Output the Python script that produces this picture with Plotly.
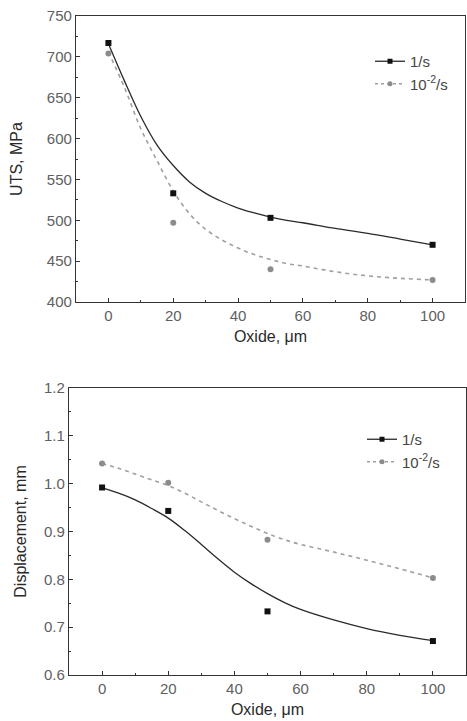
import plotly.graph_objects as go

# ---- data ----
oxide = [0, 20, 50, 100]
uts_fast = [717, 533, 503, 470]
uts_slow = [704, 497, 440, 427]
disp_fast = [0.992, 0.943, 0.733, 0.671]
disp_slow = [1.042, 1.002, 0.883, 0.803]

fit_x = [0, 5, 10, 15, 20, 25, 30, 35, 40, 45, 50, 55, 60, 70, 80, 90, 100]
uts_fast_fit = [716, 670, 627, 592, 567, 547, 533, 523, 515, 509, 504, 500, 497, 490, 484, 477, 470]
uts_slow_fit = [706, 662, 612, 573, 536, 508, 489, 476, 466, 458, 452, 447, 444, 437, 432, 429, 427]
disp_fast_fit = [0.991, 0.980, 0.966, 0.948, 0.928, 0.902, 0.873, 0.843, 0.815, 0.791, 0.770, 0.752, 0.737, 0.715, 0.697, 0.683, 0.672]
disp_slow_fit = [1.042, 1.032, 1.020, 1.008, 0.996, 0.980, 0.962, 0.944, 0.927, 0.911, 0.896, 0.883, 0.873, 0.857, 0.840, 0.822, 0.803]

x_ticks = [0, 20, 40, 60, 80, 100]
uts_ticks = [400, 450, 500, 550, 600, 650, 700, 750]
disp_ticks = [0.6, 0.7, 0.8, 0.9, 1.0, 1.1, 1.2]
disp_tick_text = ["0.6", "0.7", "0.8", "0.9", "1.0", "1.1", "1.2"]

label_fast = "1/s"
label_slow = "10<sup>-2</sup>/s"

# ---- styles ----
FONT = "Liberation Sans, Arial, sans-serif"
DARK = "#2a2a2a"
GREY_LINE = "#a0a0a0"
GREY_MK = "#8c8c8c"
TICK_COL = "#606060"

fig = go.Figure()

def add_panel(xa, ya, legend, fast, slow, fast_fit, slow_fit):
    fig.add_trace(go.Scatter(x=fit_x, y=fast_fit, mode="lines", line=dict(color=DARK, width=1.3, shape="spline"),
                             xaxis=xa, yaxis=ya, showlegend=False, hoverinfo="skip"))
    fig.add_trace(go.Scatter(x=fit_x, y=slow_fit, mode="lines",
                             line=dict(color=GREY_LINE, width=1.6, dash="4px,4px", shape="spline"),
                             xaxis=xa, yaxis=ya, showlegend=False, hoverinfo="skip"))
    fig.add_trace(go.Scatter(x=oxide, y=fast, mode="markers", marker=dict(symbol="square", size=6, color="#111111"),
                             xaxis=xa, yaxis=ya, showlegend=False))
    fig.add_trace(go.Scatter(x=oxide, y=slow, mode="markers", marker=dict(symbol="circle", size=6, color=GREY_MK),
                             xaxis=xa, yaxis=ya, showlegend=False))
    # legend entries
    fig.add_trace(go.Scatter(x=[None], y=[None], mode="lines+markers", name=label_fast,
                             line=dict(color=DARK, width=1.3), marker=dict(symbol="square", size=5, color="#111111"),
                             xaxis=xa, yaxis=ya, legend=legend))
    fig.add_trace(go.Scatter(x=[None], y=[None], mode="lines+markers", name=label_slow,
                             line=dict(color=GREY_LINE, width=1.4, dash="3px,3px"),
                             marker=dict(symbol="circle", size=5, color=GREY_MK),
                             xaxis=xa, yaxis=ya, legend=legend))

add_panel("x", "y", "legend", uts_fast, uts_slow, uts_fast_fit, uts_slow_fit)
add_panel("x2", "y2", "legend2", disp_fast, disp_slow, disp_fast_fit, disp_slow_fit)

W, H = 467, 721

axis_common = dict(showline=True, linecolor="#333333", linewidth=1.3, mirror=True,
                   ticks="inside", ticklen=4, tickwidth=1, tickcolor="#333333",
                   showgrid=False, zeroline=False, automargin=False,
                   tickfont=dict(family=FONT, size=15, color=TICK_COL))

title_font = dict(family=FONT, size=16, color=DARK)
ytitle_font = dict(family=FONT, size=16, color=DARK)

fig.update_layout(
    width=W, height=H,
    margin=dict(l=0, r=0, t=0, b=0, autoexpand=False),
    paper_bgcolor="white", plot_bgcolor="white",
    font=dict(family=FONT),
    xaxis=dict(domain=[76 / W, 465 / W], range=[-10, 110], tickvals=x_ticks, anchor="y",
               minor=dict(ticks="inside", ticklen=2, tickcolor="#333333", dtick=10, tick0=0),
               title=dict(text="Oxide, μm", font=title_font, standoff=7),
               **axis_common),
    yaxis=dict(domain=[1 - 302 / H, 1 - 16 / H], range=[400, 750], tickvals=uts_ticks, anchor="x",
               minor=dict(ticks="inside", ticklen=2, tickcolor="#333333", dtick=25, tick0=400),
               title=dict(text="UTS, MPa", font=ytitle_font, standoff=20),
               **axis_common),
    xaxis2=dict(domain=[69 / W, 466 / W], range=[-10, 110], tickvals=x_ticks, anchor="y2",
                minor=dict(ticks="inside", ticklen=2, tickcolor="#333333", dtick=10, tick0=0),
                title=dict(text="Oxide, μm", font=title_font, standoff=7),
                **axis_common),
    yaxis2=dict(domain=[1 - 675 / H, 1 - 388 / H], range=[0.6, 1.2], tickvals=disp_ticks, ticktext=disp_tick_text,
                anchor="x2",
                minor=dict(ticks="inside", ticklen=2, tickcolor="#333333", dtick=0.05, tick0=0.6),
                title=dict(text="Displacement, mm", font=ytitle_font, standoff=13),
                **axis_common),
    legend=dict(x=370 / W, y=1 - 45 / H, xanchor="left", yanchor="top", bgcolor="rgba(0,0,0,0)",
                font=dict(family=FONT, size=15, color="#444444"), itemwidth=30, tracegroupgap=0),
    legend2=dict(x=362 / W, y=1 - 423 / H, xanchor="left", yanchor="top", bgcolor="rgba(0,0,0,0)",
                 font=dict(family=FONT, size=15, color="#444444"), itemwidth=30, tracegroupgap=0),
)

fig.write_html("out.html", config={"displayModeBar": False},
               post_script="document.body.style.margin='0';document.body.style.padding='0';")
